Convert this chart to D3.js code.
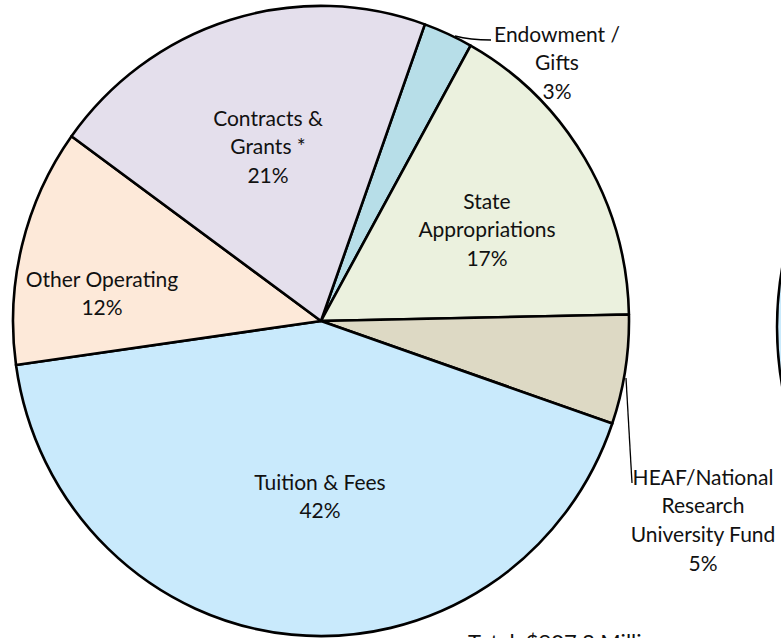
<!DOCTYPE html>
<html>
<head>
<meta charset="utf-8">
<script src="https://cdn.jsdelivr.net/npm/d3@7"></script>
<style>
  html, body { margin: 0; padding: 0; background: #fff; }
  svg { display: block; }
  text { font-family: Lato, "Open Sans", sans-serif; fill: #111; }
</style>
</head>
<body>
<div id="chart"></div>
<script>
// Revenue sources (share of total)
const categories = ["Endowment / Gifts", "State Appropriations", "HEAF/National Research University Fund",
                    "Tuition & Fees", "Other Operating", "Contracts & Grants *"];
const shares = [2.6, 16.6, 5.6, 42.5, 12.2, 20.5];
const pctLabels = ["3%", "17%", "5%", "42%", "12%", "21%"];
const labelLines = [
  ["Endowment /", "Gifts"],
  ["State", "Appropriations"],
  ["HEAF/National", "Research", "University Fund"],
  ["Tuition & Fees"],
  ["Other Operating"],
  ["Contracts &", "Grants *"]
];
const colors = ["#B7DEE8", "#EBF1DE", "#DDD9C4", "#C9EAFC", "#FDE9D9", "#E4DFEC"];
const totalText = "Total: $907.3 Million";

document.addEventListener("DOMContentLoaded", function () {
  const W = 781, H = 638;
  const cx = 321, cy = 321, r = 308;
  const startDeg = 19.7;

  const svg = d3.select("#chart").append("svg")
    .attr("width", W).attr("height", H);

  // partial neighbour pie peeking in from the right edge
  svg.append("circle")
    .attr("cx", 777 + 340).attr("cy", 327).attr("r", 340)
    .attr("fill", "#C9EAFC").attr("stroke", "#000").attr("stroke-width", 2.5);

  const pie = d3.pie().sort(null)
    .startAngle(startDeg * Math.PI / 180)
    .endAngle(startDeg * Math.PI / 180 + 2 * Math.PI);
  const arcs = pie(shares);
  const arc = d3.arc().innerRadius(0).outerRadius(r);

  const g = svg.append("g")
    .attr("transform", `translate(${cx},${cy}) scale(1,1.023)`);

  g.selectAll("path.slice")
    .data(arcs)
    .enter().append("path")
    .attr("class", "slice")
    .attr("d", arc)
    .attr("fill", (d, i) => colors[i])
    .attr("stroke", "#000")
    .attr("stroke-width", 2.6)
    .attr("stroke-linejoin", "round")
    .attr("vector-effect", "non-scaling-stroke");

  // leader lines for the outside labels
  svg.append("path")
    .attr("d", "M455,36 Q470,40 491,40")
    .attr("fill", "none").attr("stroke", "#000").attr("stroke-width", 1.3);
  svg.append("line")
    .attr("x1", 626).attr("y1", 378).attr("x2", 632).attr("y2", 483)
    .attr("stroke", "#000").attr("stroke-width", 1.3);

  // label anchor (centre x, first line y) per slice
  const labelPos = [
    [557, 33], [487, 200], [703, 476], [320, 481], [102, 278], [268, 117]
  ];
  const lineH = 28.7;

  categories.forEach((c, i) => {
    const lines = labelLines[i].concat([pctLabels[i]]);
    const t = svg.append("text")
      .attr("text-anchor", "middle")
      .attr("font-size", 21)
      .attr("x", labelPos[i][0])
      .attr("y", labelPos[i][1]);
    lines.forEach((ln, j) => {
      t.append("tspan")
        .attr("x", labelPos[i][0])
        .attr("y", labelPos[i][1] + j * lineH)
        .attr("dominant-baseline", "central")
        .text(ln);
    });
  });

  svg.append("text")
    .attr("x", 468).attr("y", 650)
    .attr("font-size", 22)
    .text(totalText);
});
</script>
</body>
</html>
